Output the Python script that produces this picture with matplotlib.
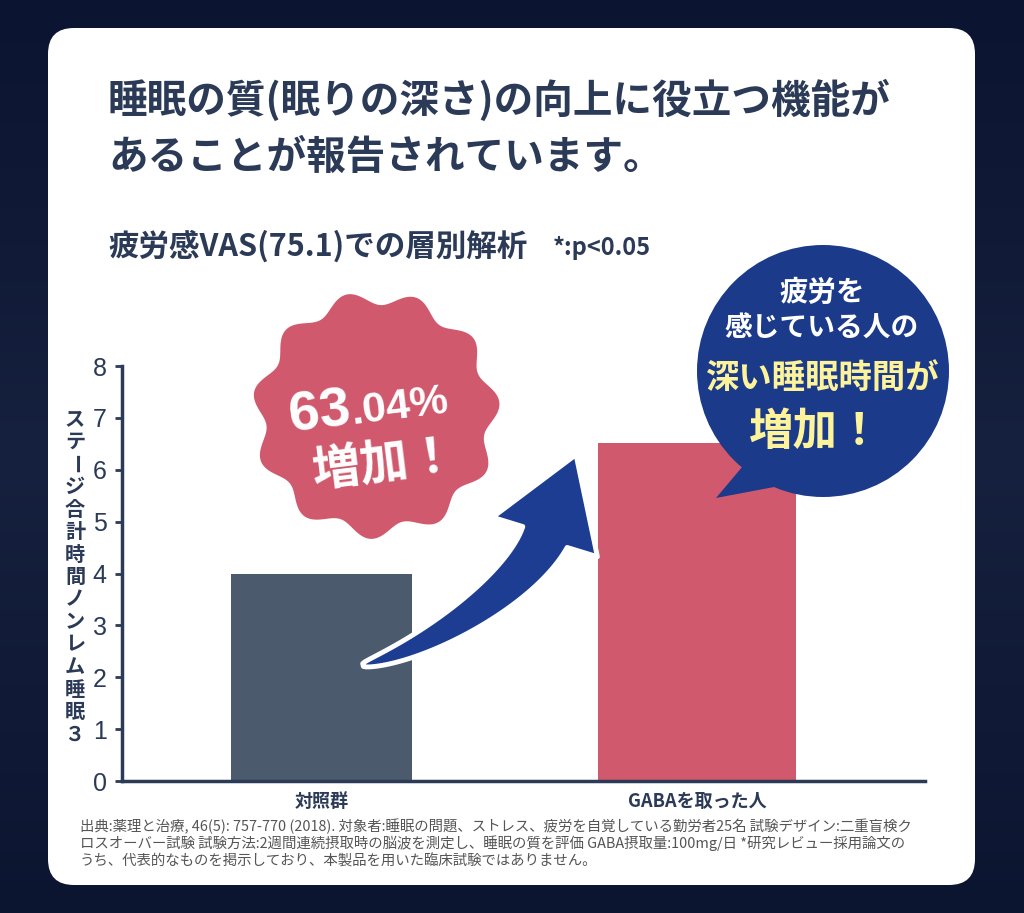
import numpy as np
import matplotlib
matplotlib.use("Agg")
import matplotlib.pyplot as plt
from matplotlib.patches import FancyBboxPatch, Polygon, Circle

plt.rcParams['font.family'] = ['Noto Sans CJK JP', 'DejaVu Sans']

# data
groups = ['対照群', 'GABAを取った人']
values = [4.0, 6.52]
bar_colors = ['#4b5b6d', '#d0596d']
yticks = [0, 1, 2, 3, 4, 5, 6, 7, 8]
ylabel_chars = list('ステージ合計時間ノンレム睡眠３')

title_lines = ['睡眠の質(眠りの深さ)の向上に役立つ機能が', 'あることが報告されています。']
subtitle = '疲労感VAS(75.1)での層別解析'
sig_note = '*:p<0.05'
footnote = ['出典:薬理と治療, 46(5): 757-770 (2018). 対象者:睡眠の問題、ストレス、疲労を自覚している勤労者25名 試験デザイン:二重盲検ク',
            'ロスオーバー試験 試験方法:2週間連続摂取時の脳波を測定し、睡眠の質を評価 GABA摂取量:100mg/日 *研究レビュー採用論文の',
            'うち、代表的なものを掲示しており、本製品を用いた臨床試験ではありません。']

W, H = 1024, 913
navy = '#2b3a57'
fig = plt.figure(figsize=(W / 100, H / 100), dpi=100)

# background + card (pixel coords)
bg = fig.add_axes([0, 0, 1, 1], zorder=0)
bg.set_xlim(0, W); bg.set_ylim(H, 0); bg.axis('off')
grad = np.linspace(0, 1, 256).reshape(-1, 1)
bg.imshow(grad, extent=[0, W, H, 0], cmap=matplotlib.colors.LinearSegmentedColormap.from_list(
    'sky', ['#0b1430', '#16213f', '#0c1530']), aspect='auto')
bg.add_patch(FancyBboxPatch((48, 28), 927, 857, boxstyle='round,pad=0,rounding_size=26',
                            fc='white', ec='none'))

bg.text(108, 101, title_lines[0], fontsize=28.5, fontweight='bold', color=navy, va='center')
bg.text(108, 157, title_lines[1], fontsize=28.5, fontweight='bold', color=navy, va='center')
bg.text(108, 246, subtitle, fontsize=22, fontweight='bold', color=navy, va='center')
bg.text(553, 248, sig_note, fontsize=17, fontweight='bold', color=navy, va='center')
for i, line in enumerate(footnote):
    bg.text(80, 826 + i * 17.5, line, fontsize=10.4, color='#555555', va='center')

# vertical y label
for i, ch in enumerate(ylabel_chars):
    bg.text(75, 419 + i * 22.5, ch, fontsize=14.5, fontweight='bold', color=navy,
            ha='center', va='center', rotation=-90 if ch == 'ー' else 0)

# bar chart
ax = fig.add_axes([122 / W, 1 - 781 / H, (925 - 122) / W, (781 - 366) / H], zorder=1)
ax.patch.set_alpha(0)
x = np.arange(len(groups))
ax.bar(x, values, width=[0.483, 0.53], color=bar_colors)
ax.set_xlim(-0.533, 1.608)
ax.set_ylim(0, 8)
ax.set_yticks(yticks)
ax.set_yticklabels([str(v) for v in yticks], family=['Liberation Sans', 'DejaVu Sans'])
ax.set_xticks(x)
ax.set_xticklabels(groups, fontsize=13, fontweight='bold', color=navy)
ax.tick_params(axis='y', labelsize=18, colors=navy, length=5, width=2, pad=6)
ax.tick_params(axis='x', length=0, pad=8)
for s in ['top', 'right']:
    ax.spines[s].set_visible(False)
for s in ['left', 'bottom']:
    ax.spines[s].set_color(navy)
    ax.spines[s].set_linewidth(2.5)

# overlay: badge, arrow, bubble
ov = fig.add_axes([0, 0, 1, 1], zorder=2)
ov.set_xlim(0, W); ov.set_ylim(H, 0); ov.axis('off')

t = np.linspace(0, 2 * np.pi, 600)
r = 117 + 7 * np.cos(11 * (t + 0.1))
ov.add_patch(Polygon(np.c_[376 + r * np.cos(t), 415 + r * np.sin(t)], closed=True,
                     fc='#d0596d', ec='none'))
lat = ['Liberation Sans', 'DejaVu Sans']
ov.text(352, 424, '63', fontsize=40, fontweight='bold', color='white', ha='right',
        va='baseline', rotation=7, rotation_mode='anchor', family=lat)
ov.text(352, 424, '.04%', fontsize=31, fontweight='bold', color='white', ha='left',
        va='baseline', rotation=7, rotation_mode='anchor', family=lat)
ov.text(385, 464, '増加！', fontsize=35, fontweight='bold', color='white', ha='center',
        va='center', rotation=7)

# curved arrow
s = np.linspace(0, 1, 80)
P = np.array([[363, 665], [425, 650], [520, 590], [545, 537]], dtype=float)
pts = (((1 - s) ** 3)[:, None] * P[0] + (3 * (1 - s) ** 2 * s)[:, None] * P[1]
       + (3 * (1 - s) * s ** 2)[:, None] * P[2] + (s ** 3)[:, None] * P[3])
d = ((3 * (1 - s) ** 2)[:, None] * (P[1] - P[0]) + (6 * (1 - s) * s)[:, None] * (P[2] - P[1])
     + (3 * s ** 2)[:, None] * (P[3] - P[2]))
d /= np.linalg.norm(d, axis=1)[:, None]
nrm = np.c_[-d[:, 1], d[:, 0]]
hw = 1.5 + 23 * s ** 0.7
upper = pts + nrm * hw[:, None]
lower = pts - nrm * hw[:, None]
hd = np.array([33.5, -89.0]); hd /= np.linalg.norm(hd)
hn = np.array([-hd[1], hd[0]])
tip = P[3] + hd * 88
barb1 = P[3] + hn * 56
barb2 = P[3] - hn * 56
outline = np.vstack([upper, [barb1, tip, barb2], lower[::-1]])
ov.add_patch(Polygon(outline, closed=True, fc='#1c3d92', ec='white', lw=3.5, joinstyle='round'))

# speech bubble
ov.add_patch(Polygon([[748, 460], [716, 498], [790, 484]], closed=True, fc='#1c3a8a', ec='none'))
ov.add_patch(Circle((823, 371), 126, fc='#1c3a8a', ec='none'))
ov.text(822, 293, '疲労を', fontsize=20.5, fontweight='bold', color='white', ha='center', va='center')
ov.text(822, 329, '感じている人の', fontsize=20, fontweight='bold', color='white', ha='center', va='center')
ov.text(823, 378, '深い睡眠時間が', fontsize=24, fontweight='bold', color='#fdf39a', ha='center', va='center')
ov.text(816, 432, '増加！', fontsize=32, fontweight='bold', color='#fdf39a', ha='center', va='center')

fig.savefig('out.png', dpi=100)
